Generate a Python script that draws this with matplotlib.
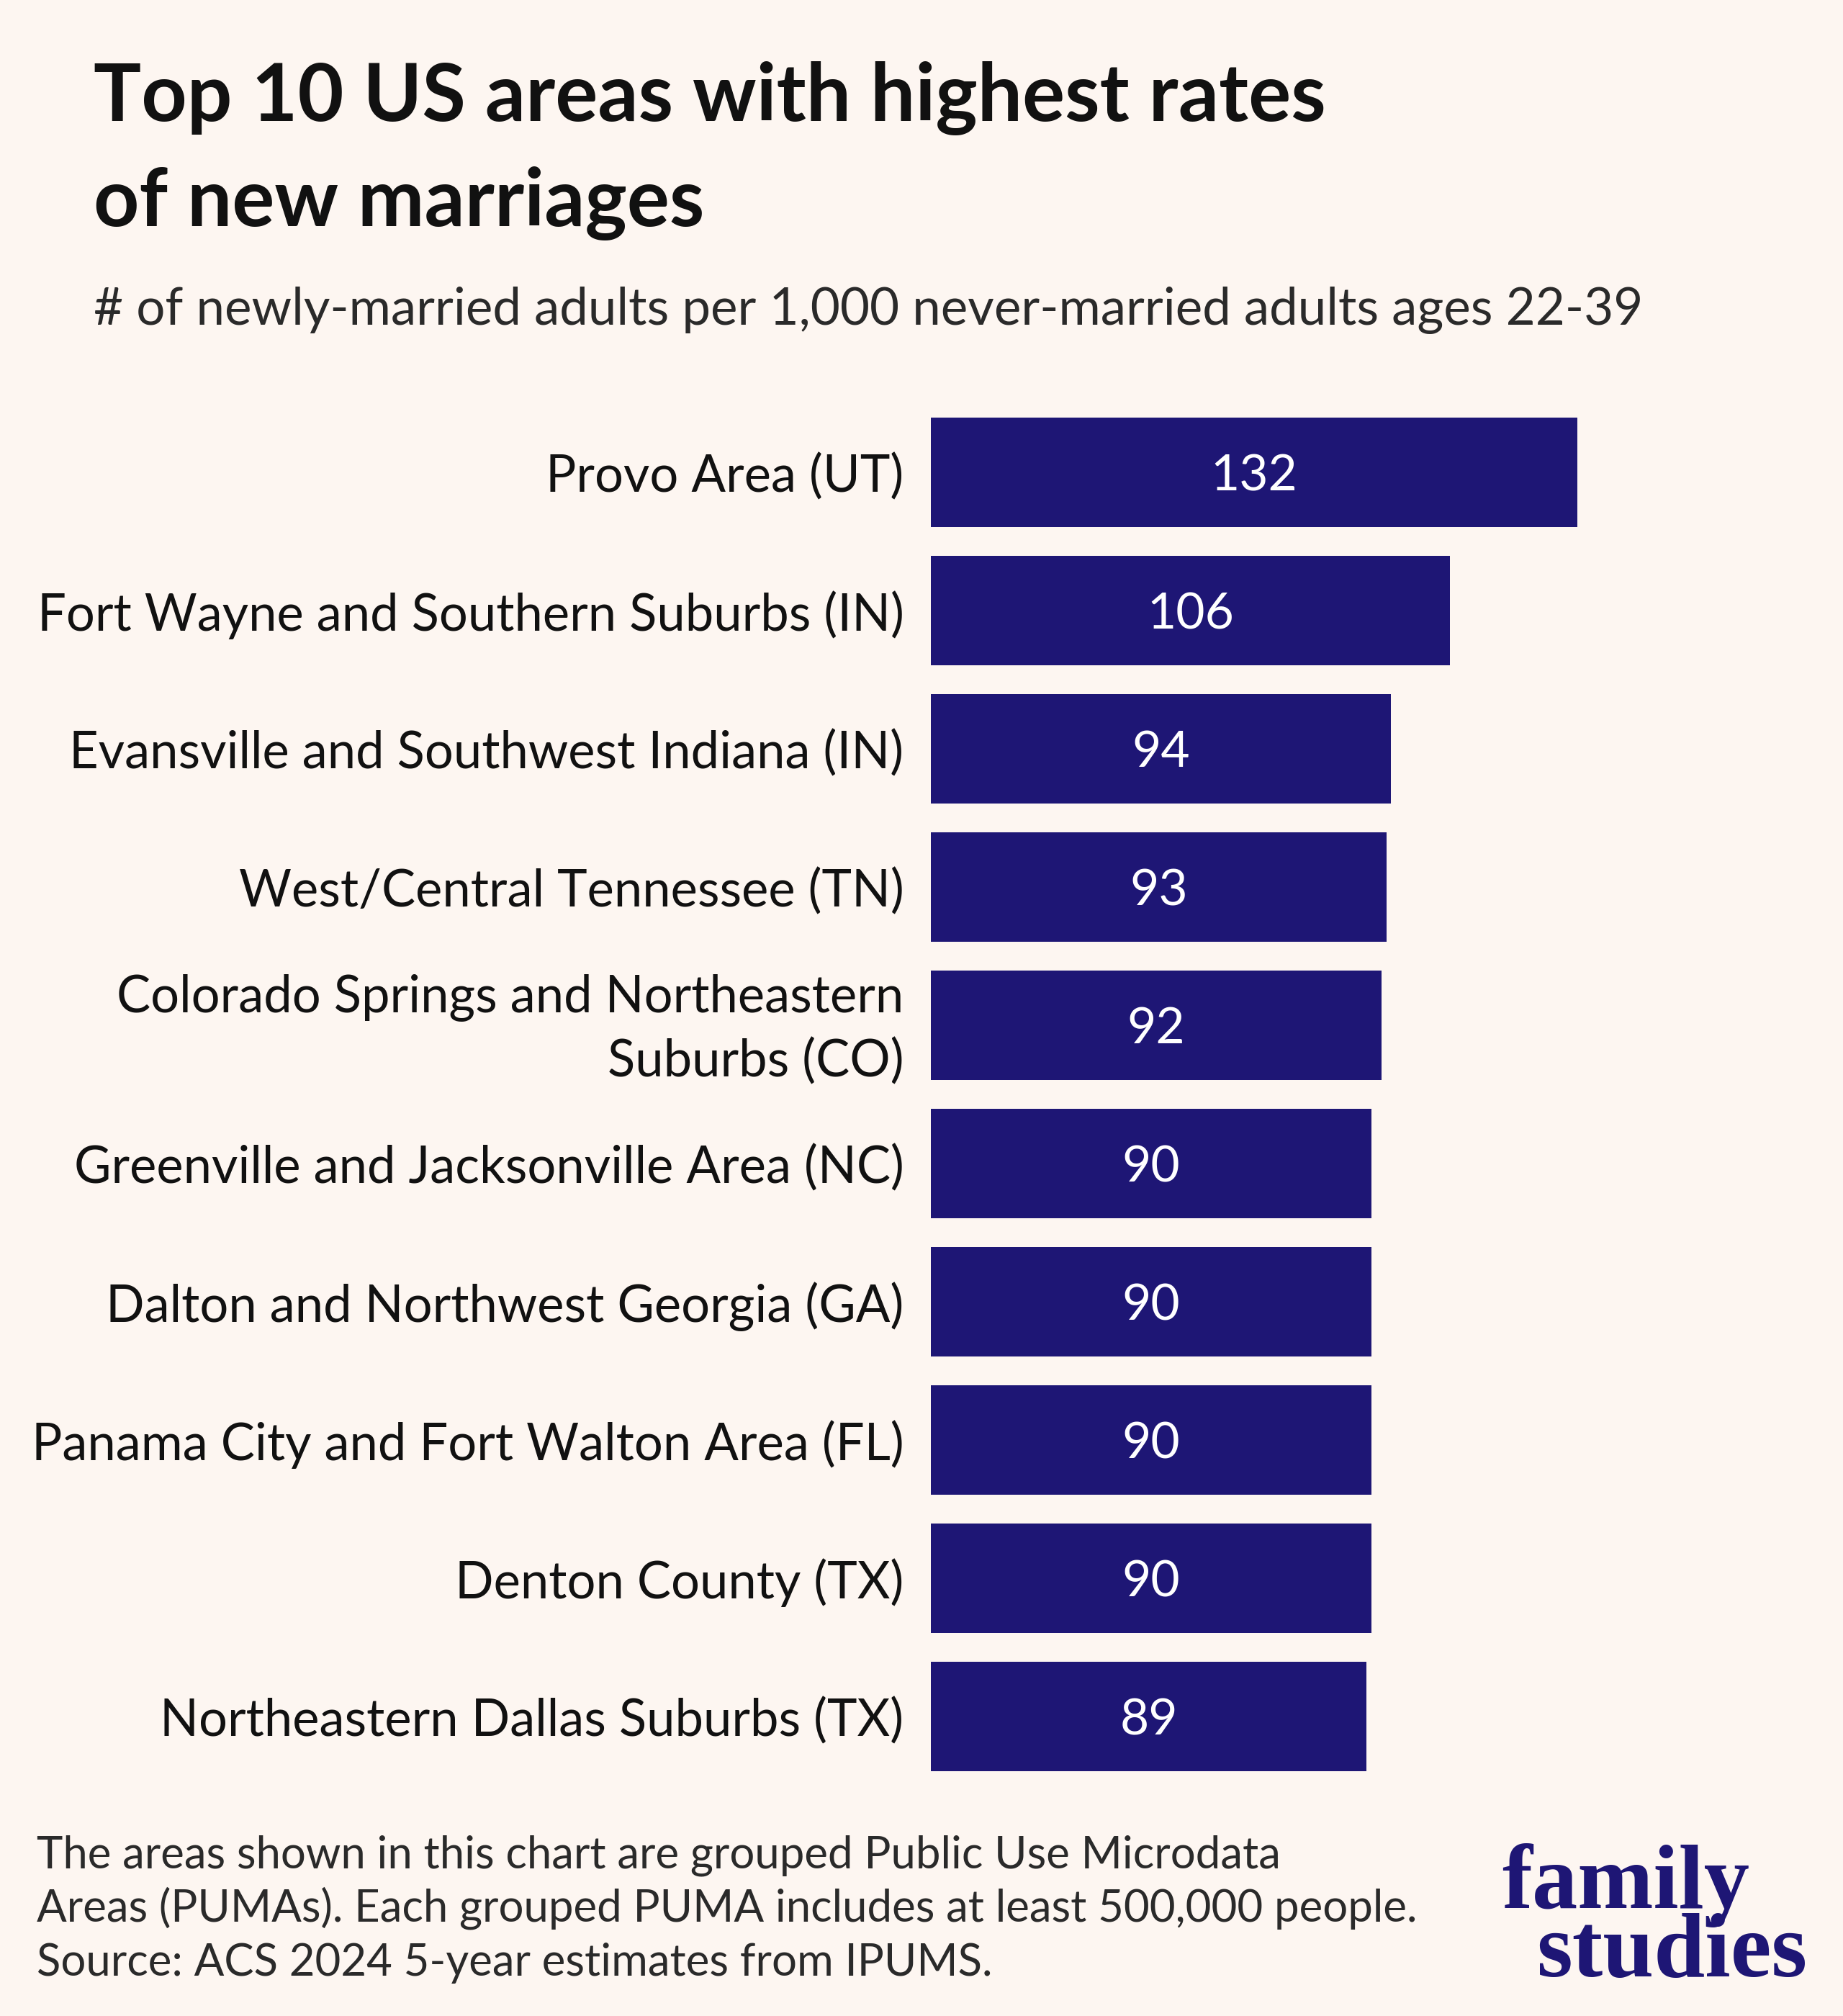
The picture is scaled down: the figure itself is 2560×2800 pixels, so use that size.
import matplotlib
matplotlib.use("Agg")
import matplotlib.pyplot as plt
from matplotlib.transforms import ScaledTranslation

areas = [
    "Provo Area (UT)",
    "Fort Wayne and Southern Suburbs (IN)",
    "Evansville and Southwest Indiana (IN)",
    "West/Central Tennessee (TN)",
    "Colorado Springs and Northeastern\nSuburbs (CO)",
    "Greenville and Jacksonville Area (NC)",
    "Dalton and Northwest Georgia (GA)",
    "Panama City and Fort Walton Area (FL)",
    "Denton County (TX)",
    "Northeastern Dallas Suburbs (TX)",
]
rates = [132, 106, 94, 93, 92, 90, 90, 90, 90, 89]

title_lines = ["Top 10 US areas with highest rates", "of new marriages"]
subtitle = "# of newly-married adults per 1,000 never-married adults ages 22-39"
footnote_lines = [
    "The areas shown in this chart are grouped Public Use Microdata",
    "Areas (PUMAs). Each grouped PUMA includes at least 500,000 people.",
    "Source: ACS 2024 5-year estimates from IPUMS.",
]

BG = "#fdf6f1"
BAR = "#1e1675"
W, H = 2560, 2800
plt.rcParams["font.family"] = ["Lato", "DejaVu Sans"]

fig = plt.figure(figsize=(W / 100, H / 100), dpi=100, facecolor=BG)

left_px, right_px = 1293, 2191
top_px, bot_px = 560, 2480
ax = fig.add_axes([left_px / W, 1 - bot_px / H, (right_px - left_px) / W, (bot_px - top_px) / H])
ax.set_facecolor("none")
ypos = list(range(len(areas)))
ax.barh(ypos, rates, height=0.79, color=BAR, edgecolor="none")
ax.set_xlim(0, 132)
ax.set_ylim(len(areas) - 0.5, -0.5)
ax.set_yticks(ypos)
ax.set_yticklabels(areas, fontsize=50.8, color="#111111", linespacing=1.42)
ax.tick_params(axis="y", length=0, pad=27)
ax.tick_params(axis="x", length=0, labelbottom=False)
for lab in ax.get_yticklabels():
    lab.set_horizontalalignment("right")
    lab.set_multialignment("right")
    if "\n" in lab.get_text():
        lab.set_transform(lab.get_transform() + ScaledTranslation(0, 0.11, fig.dpi_scale_trans))
for s in ax.spines.values():
    s.set_visible(False)
for y, v in zip(ypos, rates):
    ax.text(v / 2, y, str(v), ha="center", va="center_baseline", fontsize=50, color="white")

# title
fig.text(130 / W, 1 - 168 / H, title_lines[0], fontsize=79.6, fontweight="bold", color="#111111", va="baseline")
fig.text(130 / W, 1 - 314 / H, title_lines[1], fontsize=79.6, fontweight="bold", color="#111111", va="baseline")
fig.text(130 / W, 1 - 451 / H, subtitle, fontsize=51, color="#2a2a2a", va="baseline")

# footnote
for i, line in enumerate(footnote_lines):
    fig.text(51 / W, 1 - (2594 + 75 * i) / H, line, fontsize=44.5, color="#2a2a2a", va="baseline")

# logo
fig.text(2086 / W, 1 - 2650 / H, "family", fontsize=91, fontweight="bold", color=BAR,
         family=["Liberation Serif", "DejaVu Serif"], va="baseline")
fig.text(2134 / W, 1 - 2745 / H, "studies", fontsize=92, fontweight="bold", color=BAR,
         family=["Liberation Serif", "DejaVu Serif"], va="baseline")

fig.savefig("out.png", dpi=100, facecolor=BG)
